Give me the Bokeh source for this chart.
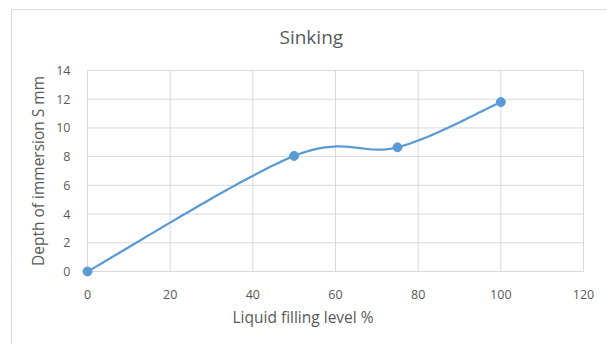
import numpy as np
from bokeh.plotting import figure
from bokeh.models import Range1d, FixedTicker, Title
from bokeh.embed import file_html
from bokeh.resources import INLINE

# Measurements: liquid filling level (%) vs depth of immersion S (mm)
filling_level = [0, 50, 75, 100]
immersion_depth = [0.0, 8.05, 8.65, 11.8]

x_ticks = [0, 20, 40, 60, 80, 100, 120]
y_ticks = [0, 2, 4, 6, 8, 10, 12, 14]

LINE_BLUE = "#5B9BD5"
GRID = "#d9d9d9"
TEXT = "#595959"
FONT = "Open Sans"


def smooth_curve(xs, ys, steps=40):
    """Cardinal (Catmull-Rom) Bezier smoothing through the given points."""
    pts = np.column_stack([xs, ys]).astype(float)
    n = len(pts)
    out = [pts[0]]
    t = np.linspace(0, 1, steps)[1:]
    for i in range(n - 1):
        p0 = pts[max(i - 1, 0)]
        p1 = pts[i]
        p2 = pts[i + 1]
        p3 = pts[min(i + 2, n - 1)]
        c1 = p1 + (p2 - p0) / 6.0
        c2 = p2 - (p3 - p1) / 6.0
        seg = ((1 - t) ** 3)[:, None] * p1 + (3 * (1 - t) ** 2 * t)[:, None] * c1 \
            + (3 * (1 - t) * t ** 2)[:, None] * c2 + (t ** 3)[:, None] * p2
        out.extend(seg)
    out = np.array(out)
    return out[:, 0], out[:, 1]


x_lo, x_hi = x_ticks[0], x_ticks[-1]
y_lo, y_hi = y_ticks[0], y_ticks[-1]
# a little room around the plot area so end markers are not cut off
x_pad = (x_hi - x_lo) * 6 / 496
y_pad = (y_hi - y_lo) * 6 / 201

p = figure(
    width=596, height=335,
    x_range=Range1d(x_lo - x_pad, x_hi + x_pad),
    y_range=Range1d(y_lo - y_pad, y_hi + y_pad),
    output_backend="svg", toolbar_location=None,
    min_border_left=69, min_border_right=19,
    min_border_top=54, min_border_bottom=68,
)
p.margin = (9, 0, 0, 11)
p.styles = {"border-left": f"1px solid {GRID}", "border-top": f"1px solid {GRID}"}

p.outline_line_color = None
p.background_fill_color = "white"
p.border_fill_color = "white"
p.xgrid.visible = False
p.ygrid.visible = False

for ax in (p.xaxis[0], p.yaxis[0]):
    ax.axis_line_color = None
    ax.major_tick_line_color = None
    ax.minor_tick_line_color = None
    ax.major_label_text_color = TEXT
    ax.major_label_text_font = FONT
    ax.major_label_text_font_size = "12.5px"

p.xaxis.ticker = FixedTicker(ticks=x_ticks)
p.yaxis.ticker = FixedTicker(ticks=y_ticks)
p.xaxis.major_label_standoff = 6
p.yaxis.major_label_standoff = 5

p.yaxis.axis_label = "Depth of immersion S mm"
p.yaxis.axis_label_text_font = FONT
p.yaxis.axis_label_text_font_size = "15.5px"
p.yaxis.axis_label_text_font_style = "normal"
p.yaxis.axis_label_text_color = TEXT
p.yaxis.axis_label_standoff = 4

# gridlines of the plot area, one per tick
p.segment(x0=x_ticks, y0=[y_lo] * len(x_ticks), x1=x_ticks, y1=[y_hi] * len(x_ticks),
          line_color=GRID, line_width=1)
p.segment(x0=[x_lo] * len(y_ticks), y0=y_ticks, x1=[x_hi] * len(y_ticks), y1=y_ticks,
          line_color=GRID, line_width=1)

sx, sy = smooth_curve(filling_level, immersion_depth)
p.line(sx, sy, line_color=LINE_BLUE, line_width=2.25)
p.scatter(filling_level, immersion_depth, size=9, fill_color=LINE_BLUE,
          line_color=LINE_BLUE, marker="circle")

p.add_layout(Title(text="Sinking", align="left", offset=198,
                   vertical_align="top", standoff=26,
                   text_font=FONT, text_font_size="19px",
                   text_font_style="normal", text_color=TEXT), "above")
p.add_layout(Title(text="Liquid filling level %", align="left", offset=151,
                   vertical_align="bottom", standoff=4,
                   text_font=FONT, text_font_size="15.5px",
                   text_font_style="normal", text_color=TEXT), "below")

open("out.html", "w").write(file_html(p, INLINE))
